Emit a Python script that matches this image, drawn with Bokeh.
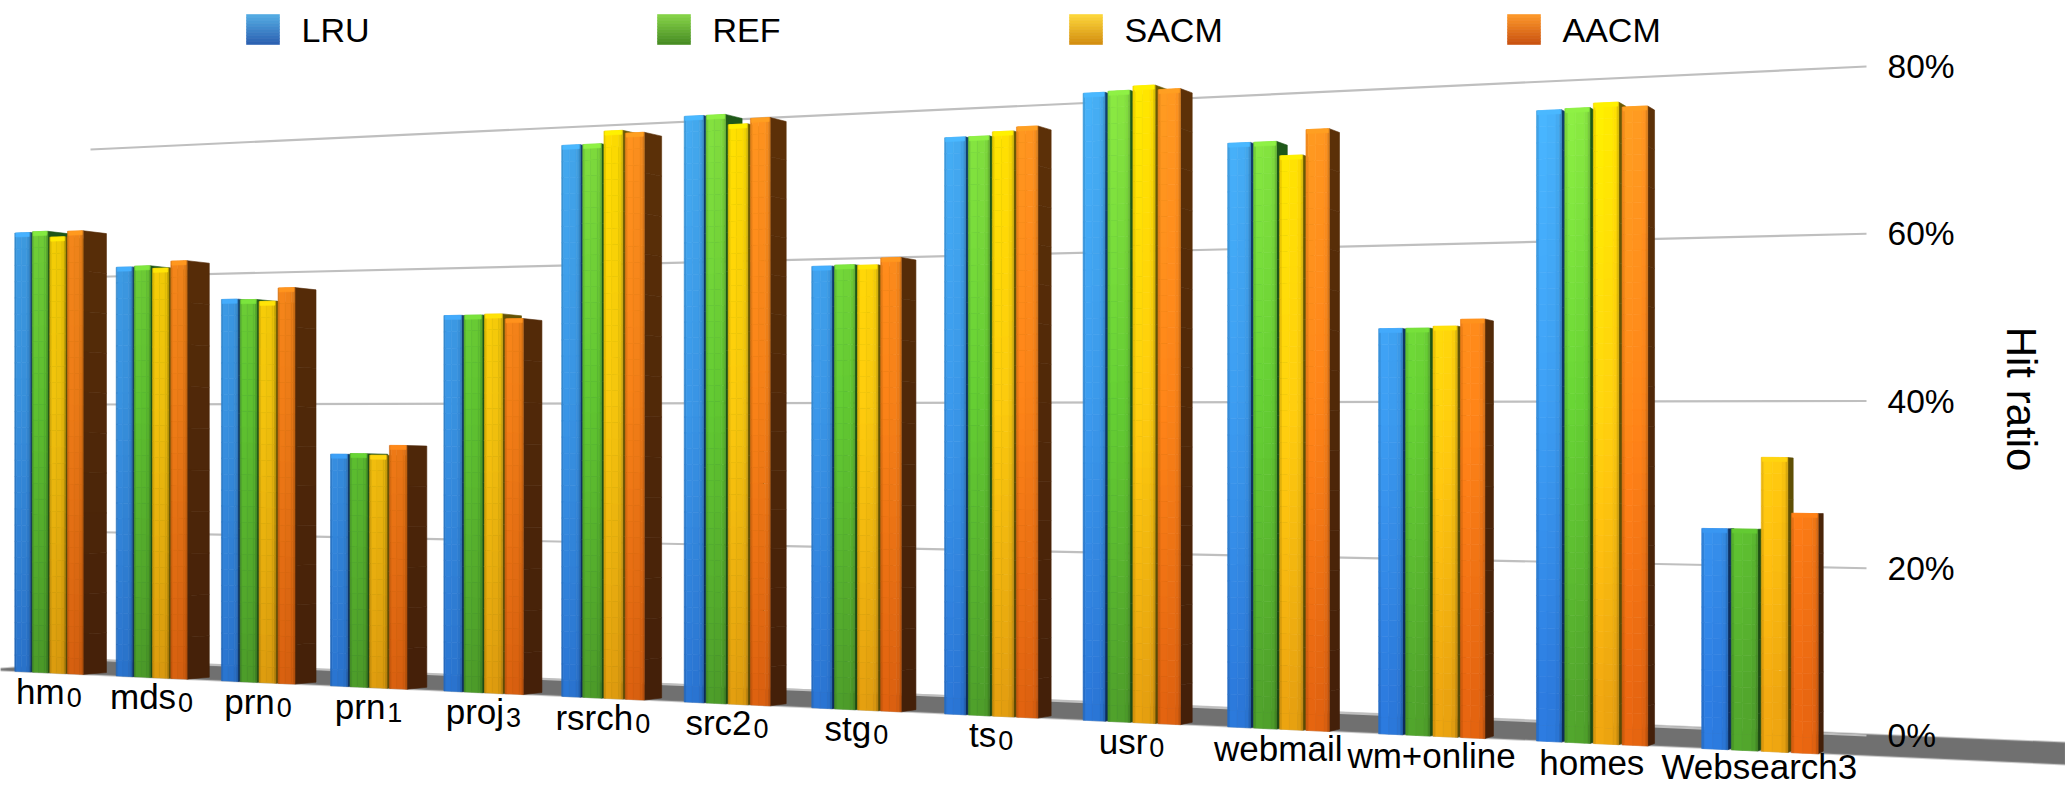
from bokeh.embed import file_html
from bokeh.resources import INLINE
from bokeh.plotting import figure
from bokeh.models import Range1d, FixedTicker, PrintfTickFormatter, Label
from bokeh.core.properties import value
import math

# ---- chart data (hit ratio in percent) ----
workloads = ["hm", "mds", "prn", "prn", "proj", "rsrch", "src2", "stg",
             "ts", "usr", "webmail", "wm+online", "homes", "Websearch3"]
subscripts = ["0", "0", "0", "1", "3", "0", "0", "0", "0", "0", "", "", "", ""]
policies = ["LRU", "REF", "SACM", "AACM"]
lru = [66.4, 60.8, 55.7, 33.2, 52.8, 76.0, 79.2, 58.5, 74.8, 79.7, 72.6, 49.3, 75.0, 25.6]
ref = [66.5, 60.9, 55.6, 33.3, 52.8, 76.0, 79.2, 58.6, 74.8, 79.8, 72.6, 49.3, 75.1, 25.6]
sacm = [65.6, 60.5, 55.3, 33.1, 52.9, 77.7, 77.8, 58.5, 75.3, 80.3, 70.8, 49.5, 75.6, 33.9]
aacm = [66.4, 61.5, 57.2, 34.5, 52.2, 77.3, 78.5, 59.4, 75.8, 79.7, 73.9, 50.3, 75.0, 27.5]
series = [lru, ref, sacm, aacm]
y_ticks = [0, 20, 40, 60, 80]

FONT = "Liberation Sans"
CHAR_EM = {"h": .556, "m": .833, "d": .556, "s": .5, "p": .556, "r": .333, "n": .556, "o": .556,
           "j": .222, "c": .5, "2": .556, "t": .278, "g": .556, "u": .556, "a": .556, "w": .722,
           "e": .556, "b": .556, "i": .222, "l": .222, "+": .584, "W": .944, "3": .556,
           "0": .556, "1": .556}

# ---- colour ramps: (top of the scene, middle, bottom of the scene) ----
front_ramps = [
    ("#45abef", "#3a96e6", "#2a74d2"),
    ("#85e040", "#62c832", "#4d9c2a"),
    ("#ffe000", "#f8c80e", "#e09c10"),
    ("#ff9420", "#f58018", "#da6010"),
]
side_ramps = [
    ("#123f70", "#0e2c5a"),
    ("#1e5a1a", "#1e4a14"),
    ("#6a5a06", "#5a4a05"),
    ("#5e3208", "#44200a"),
]
legend_ramps = [
    ("#55aee5", "#2a5fb0"),
    ("#88d648", "#458a22"),
    ("#ffd93b", "#d28c0e"),
    ("#ff9a2a", "#c8500f"),
]

# ---- perspective of the scene, in page pixels ----
WIDTH, HEIGHT = 2065, 785
AXIS_X = 1866
AXIS_ZERO_PX, AXIS_PX_PER_PCT = 735.0, 8.3625
X0, B, D = 14.3, 99.6, 0.01788       # category index -> page x
BAR_STEP, BAR_W = 0.1747, 0.154      # bar pitch and width, in category units
BASE0, BASE_SLOPE = 670.7, 0.0458    # front edge of the floor
K, K_GROW = 6.6, 0.0001795           # pixels per percent, growing towards the viewer
VP_X, VP_Y, DEPTH = 2300.0, 500.0, 0.0105  # vanishing point of the bar sides
WALL_X0, WALL_BASE0, WALL_PCT0 = 90.0, 659.0, 6.375
TEXT_SHIFT = 13                      # lift from the text anchor to the drawn baseline
LABEL_ANCHOR_MAX = 765.5             # keeps the lowest category label on the page


def to_y(px):
    return (AXIS_ZERO_PX - px) / AXIS_PX_PER_PCT


def screen_x(i):
    return X0 + B * i / (1 - D * i)


def base_px(x):
    return BASE0 + BASE_SLOPE * (x - 13)


def height_px(x, v):
    return base_px(x) - v * K * (1 + K_GROW * (x - X0))


def back(x, y):
    return x + DEPTH * (VP_X - x), y + DEPTH * (VP_Y - y)


def rgb(h):
    return [int(h[n:n + 2], 16) for n in (1, 3, 5)]


def mix(c1, c2, t):
    t = max(0.0, min(1.0, t))
    a, b = rgb(c1), rgb(c2)
    return [a[n] + (b[n] - a[n]) * t for n in range(3)]


def to_hex(c, f=1.0):
    return "#%02x%02x%02x" % tuple(int(max(0, min(255, n * f))) for n in c)


def front_colour(ramp, y):
    if y < 400:
        return mix(ramp[0], ramp[1], (y - 100) / 300)
    return mix(ramp[1], ramp[2], (y - 400) / 300)


xs, ys, fills = [], [], []


def add(px_xs, px_ys, colour):
    xs.append(list(px_xs))
    ys.append([to_y(y) for y in px_ys])
    fills.append(colour)


# brightness and share of each vertical strip across a bar's front
COLS = [(0.0, 0.10, 0.93), (0.10, 0.42, 1.04), (0.42, 0.78, 1.02), (0.78, 0.93, 0.98), (0.93, 1.0, 0.86)]
ROW_PX = 16
SIDE_ROW_PX = 40


def draw_bar(i, j, v):
    u = i + j * BAR_STEP
    xl, xr = screen_x(u), screen_x(u + BAR_W)
    tl, tr = height_px(xl, v), height_px(xr, v)
    bl, br = height_px(xl, 0), height_px(xr, 0)
    rows = max(2, int(round((bl - tl) / ROW_PX)))
    side_rows = max(2, int(round((bl - tl) / SIDE_ROW_PX)))

    # right-hand side face, receding towards the vanishing point
    bx, ty = back(xr, tr)
    _, by = back(xr, br)
    for r in range(side_rows):
        a, c = r / side_rows, (r + 1) / side_rows
        y1, y2 = tr + (br - tr) * a, tr + (br - tr) * c
        y3, y4 = ty + (by - ty) * c, ty + (by - ty) * a
        col = mix(side_ramps[j][0], side_ramps[j][1], ((y1 + y2) / 2 - 100) / 600)
        add([xr, xr, bx, bx], [y1, y2, y3, y4], to_hex(col))

    # front face
    glow = 0.93 + 0.12 * (xl / 1800)
    for r in range(rows):
        a, c = r / rows, (r + 1) / rows
        for (f0, f1, shade) in COLS:
            x0, x1 = xl + (xr - xl) * f0, xl + (xr - xl) * f1
            t0, t1 = tl + (tr - tl) * f0, tl + (tr - tl) * f1
            b0, b1 = bl + (br - bl) * f0, bl + (br - bl) * f1
            quad_y = [t0 + (b0 - t0) * a, t1 + (b1 - t1) * a, t1 + (b1 - t1) * c, t0 + (b0 - t0) * c]
            col = front_colour(front_ramps[j], sum(quad_y) / 4)
            add([x0, x1, x1, x0], quad_y, to_hex(col, shade * glow))

    # bright rim along the top edge
    col = front_colour(front_ramps[j], tl - 40)
    add([xl + 1, xr - 1, xr - 1, xl + 1], [tl, tr, tr + 4, tl + 4], to_hex(col, 1.08))


for i in range(len(workloads)):
    for j, s in enumerate(series):
        draw_bar(i, j, s[i])

# legend swatches: a vertical ramp per policy
LEG_XS, LEG_W, LEG_TOP, LEG_H = [246, 657, 1069, 1507], 33, 14, 30
for j in range(len(policies)):
    lx = LEG_XS[j]
    for r in range(10):
        t0, t1 = LEG_TOP + LEG_H * r / 10, LEG_TOP + LEG_H * (r + 1) / 10
        add([lx, lx + LEG_W, lx + LEG_W, lx], [t0, t0, t1, t1],
            to_hex(mix(legend_ramps[j][0], legend_ramps[j][1], (r + 0.5) / 10)))

p = figure(width=WIDTH, height=HEIGHT, output_backend="svg", toolbar_location=None,
           x_range=Range1d(0, WIDTH),
           y_range=Range1d(to_y(HEIGHT), to_y(0)),
           x_axis_location=None, y_axis_location="right",
           min_border_left=0, min_border_top=0, min_border_bottom=0, min_border_right=0,
           outline_line_color=None, background_fill_color="white", border_fill_color="white")
p.grid.visible = False

# value axis, standing where the wall ends
ax = p.yaxis[0]
ax.fixed_location = AXIS_X
ax.ticker = FixedTicker(ticks=y_ticks)
ax.formatter = PrintfTickFormatter(format="%d%%")
ax.axis_line_color = None
ax.major_tick_line_color = None
ax.minor_tick_line_color = None
ax.major_label_standoff = 15
ax.major_label_text_font = FONT
ax.major_label_text_font_size = "33.5px"
ax.major_label_text_color = "#000000"

# floor band, running off the right edge of the page
p.patch([0, 105, WIDTH, WIDTH, 0], [to_y(668), to_y(660.5), to_y(742), to_y(764), to_y(670)],
        fill_color="#707070", line_color="#909090", line_alpha=0.45, line_width=2)

# receding wall gridlines
for t in y_ticks:
    p.line([WALL_X0, AXIS_X], [to_y(WALL_BASE0 - t * WALL_PCT0), t],
           line_color="#bfbfbf", line_width=2.2)

p.patches(xs, ys, fill_color=fills, line_color=fills, line_width=0.6)

# category labels under each group, with their subscripts set separately
LABEL_PX, SUB_PX, SUB_GAP = 35, 27, 2
label_x, label_y, sub_x, sub_y = [], [], [], []
for i, (name, sub) in enumerate(zip(workloads, subscripts)):
    centre = screen_x(i + 0.34)
    w_name = sum(CHAR_EM[c] for c in name) * LABEL_PX
    w_sub = (sum(CHAR_EM[c] for c in sub) * SUB_PX + SUB_GAP) if sub else 0
    base = min(base_px(centre) + 32 - TEXT_SHIFT, LABEL_ANCHOR_MAX)
    label_x.append(centre - (w_name + w_sub) / 2)
    label_y.append(to_y(base))
    sub_x.append(centre - (w_name + w_sub) / 2 + w_name + SUB_GAP)
    sub_y.append(to_y(base + 6))
p.text(label_x, label_y, text=workloads, text_font=value(FONT), text_font_size=value(f"{LABEL_PX}px"),
       text_align="left", text_baseline="alphabetic", text_color="#000000")
p.text(sub_x, sub_y, text=subscripts, text_font=value(FONT), text_font_size=value(f"{SUB_PX}px"),
       text_align="left", text_baseline="alphabetic", text_color="#000000")

# legend texts
p.text([x + 55 for x in LEG_XS], [to_y(42 - TEXT_SHIFT)] * len(policies),
       text=policies, text_font=value(FONT), text_font_size=value("34px"),
       text_align="left", text_baseline="alphabetic", text_color="#000000")

p.add_layout(Label(x=2021, y=to_y(398.5), text="Hit ratio", angle=-math.pi / 2,
                   text_font=FONT, text_font_size="42px", text_color="#000000",
                   text_align="center", text_baseline="middle"))

open("out.html", "w").write(file_html(p, INLINE))
